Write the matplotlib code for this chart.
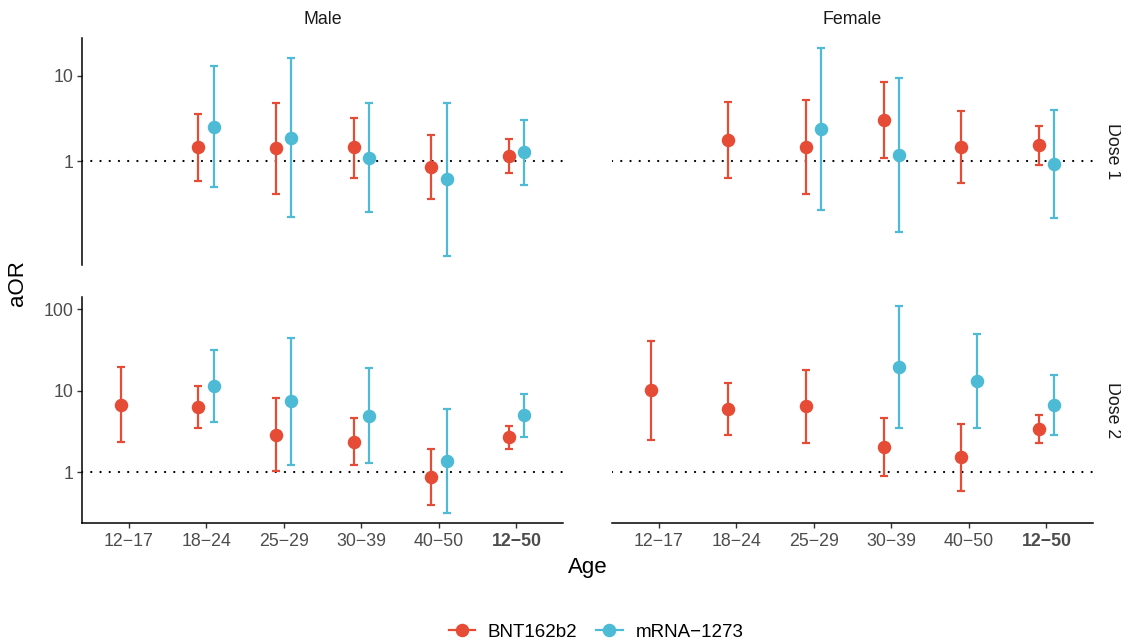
import numpy as np
import matplotlib.pyplot as plt
from matplotlib.lines import Line2D

plt.rcParams['font.family'] = ['Liberation Sans', 'DejaVu Sans']

nan = np.nan

# Age groups and vaccines
ages = ["12\u221217", "18\u221224", "25\u221229", "30\u221239", "40\u221250", "12\u221250"]
vaccines = ["BNT162b2", "mRNA\u22121273"]
colors = ["#E64B35", "#4DBBD5"]

# Male, Dose 1
m1_bnt = [nan, 1.45, 1.41, 1.45, 0.85, 1.14]
m1_bnt_lo = [nan, 0.59, 0.41, 0.64, 0.36, 0.72]
m1_bnt_hi = [nan, 3.53, 4.83, 3.19, 2.00, 1.81]
m1_mrna = [nan, 2.52, 1.87, 1.08, 0.61, 1.26]
m1_mrna_lo = [nan, 0.49, 0.22, 0.25, 0.078, 0.53]
m1_mrna_hi = [nan, 13.1, 16.0, 4.75, 4.75, 3.02]

# Female, Dose 1
f1_bnt = [nan, 1.76, 1.47, 3.05, 1.47, 1.54]
f1_bnt_lo = [nan, 0.64, 0.41, 1.09, 0.55, 0.91]
f1_bnt_hi = [nan, 4.88, 5.19, 8.5, 3.86, 2.57]
f1_mrna = [nan, nan, 2.37, 1.19, nan, 0.92]
f1_mrna_lo = [nan, nan, 0.267, 0.147, nan, 0.215]
f1_mrna_hi = [nan, nan, 21.1, 9.48, nan, 3.96]

# Male, Dose 2
m2_bnt = [6.74, 6.31, 2.89, 2.37, 0.875, 2.69]
m2_bnt_lo = [2.33, 3.46, 1.04, 1.22, 0.397, 1.91]
m2_bnt_hi = [19.7, 11.4, 8.07, 4.66, 1.93, 3.69]
m2_mrna = [nan, 11.3, 7.48, 4.94, 1.36, 4.99]
m2_mrna_lo = [nan, 4.10, 1.24, 1.28, 0.314, 2.69]
m2_mrna_hi = [nan, 31.5, 44.6, 19.1, 5.92, 9.19]

# Female, Dose 2
f2_bnt = [10.1, 5.97, 6.44, 2.02, 1.53, 3.42]
f2_bnt_lo = [2.47, 2.86, 2.27, 0.893, 0.585, 2.31]
f2_bnt_hi = [41.0, 12.4, 18.1, 4.59, 3.94, 5.04]
f2_mrna = [nan, nan, nan, 19.5, 13.3, 6.68]
f2_mrna_lo = [nan, nan, nan, 3.52, 3.52, 2.86]
f2_mrna_hi = [nan, nan, nan, 110, 50.0, 15.6]

panels = {
    (0, 0): [(m1_bnt, m1_bnt_lo, m1_bnt_hi), (m1_mrna, m1_mrna_lo, m1_mrna_hi)],
    (0, 1): [(f1_bnt, f1_bnt_lo, f1_bnt_hi), (f1_mrna, f1_mrna_lo, f1_mrna_hi)],
    (1, 0): [(m2_bnt, m2_bnt_lo, m2_bnt_hi), (m2_mrna, m2_mrna_lo, m2_mrna_hi)],
    (1, 1): [(f2_bnt, f2_bnt_lo, f2_bnt_hi), (f2_mrna, f2_mrna_lo, f2_mrna_hi)],
}

W, H = 1121, 644
fig = plt.figure(figsize=(W / 100, H / 100), dpi=100)

col_x = [82, 612]
panel_w = 481
row_y = [(38, 265), (297, 523)]
ylims = [(0.0604, 27.7), (0.237, 142)]
yticks = [[1, 10], [1, 10, 100]]

x = np.arange(len(ages))
offsets = [-0.1, 0.1]

for (r, c), series in panels.items():
    top, bot = row_y[r]
    ax = fig.add_axes([col_x[c] / W, 1 - bot / H, panel_w / W, (bot - top) / H])
    ax.set_yscale('log')
    # reference line at aOR = 1
    ax.axhline(1, color='black', lw=1.6, linestyle=(0, (0.05, 4.1)),
               dash_capstyle='round', zorder=1)
    for k, (est, lo, hi) in enumerate(series):
        est = np.array(est, dtype=float)
        lo = np.array(lo, dtype=float)
        hi = np.array(hi, dtype=float)
        ax.errorbar(x + offsets[k], est, yerr=[est - lo, hi - est], fmt='o',
                    color=colors[k], ms=8.7, elinewidth=1.6, capsize=2.9,
                    capthick=1.6, zorder=3)
    ax.set_xlim(-0.6, 5.6)
    ax.set_ylim(*ylims[r])
    ax.minorticks_off()
    for s in ['top', 'right']:
        ax.spines[s].set_visible(False)
    ax.spines['left'].set_linewidth(1.1)
    ax.spines['bottom'].set_linewidth(1.1)

    if c == 0:
        ax.set_yticks(yticks[r])
        ax.set_yticklabels([str(t) for t in yticks[r]])
        ax.tick_params(axis='y', length=3.3, width=1.0, color='#333333',
                       labelcolor='#4D4D4D', labelsize=12.8, pad=3)
    else:
        ax.spines['left'].set_visible(False)
        ax.set_yticks([])

    if r == 1:
        ax.set_xticks(x)
        ax.set_xticklabels(ages)
        ax.tick_params(axis='x', length=3.3, width=1.0, color='#333333',
                       labelcolor='#4D4D4D', labelsize=12.8, pad=4)
        ax.get_xticklabels()[-1].set_fontweight('bold')
    else:
        ax.spines['bottom'].set_visible(False)
        ax.set_xticks([])

# Strip labels
fig.text(322.5 / W, 1 - 20 / H, "Male", ha='center', va='center', fontsize=12.8, color='#1A1A1A')
fig.text(852.5 / W, 1 - 20 / H, "Female", ha='center', va='center', fontsize=12.8, color='#1A1A1A')
fig.text(1112 / W, 1 - 151.5 / H, "Dose 1", ha='center', va='center', rotation=270, fontsize=12.8, color='#1A1A1A')
fig.text(1112 / W, 1 - 410 / H, "Dose 2", ha='center', va='center', rotation=270, fontsize=12.8, color='#1A1A1A')

# Axis titles
fig.text(18 / W, 1 - 283 / H, "aOR", ha='center', va='center', rotation=90, fontsize=16)
fig.text(587.5 / W, 1 - 568 / H, "Age", ha='center', va='center', fontsize=16)

# Legend
handles = [Line2D([0], [0], color=col, marker='o', ms=8.7, lw=1.6) for col in colors]
fig.legend(handles, vaccines, loc='center', bbox_to_anchor=(596 / W, 1 - 632 / H), ncol=2,
           frameon=False, fontsize=13.5, handlelength=1.4, columnspacing=1.0, handletextpad=0.7)

fig.savefig("out.png", dpi=100)
